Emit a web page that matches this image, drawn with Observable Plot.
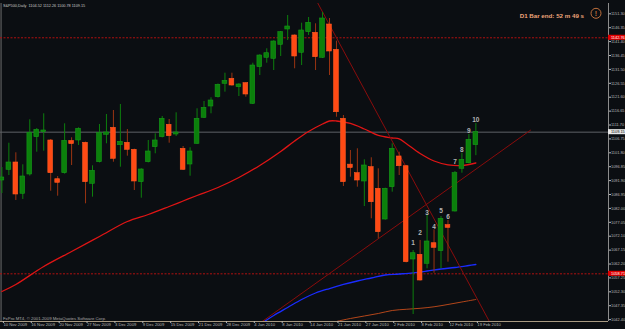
<!DOCTYPE html>
<html>
<head>
<meta charset="utf-8">
<script src="https://cdn.jsdelivr.net/npm/d3@7"></script>
<script src="https://cdn.jsdelivr.net/npm/@observablehq/plot@0.6"></script>
<style>
  html, body { margin: 0; padding: 0; background: #0b0e12; }
  #chart { width: 625px; height: 329px; overflow: hidden; }
</style>
</head>
<body>
<div id="chart"></div>
<script>
// ---- Data (S&P500, Daily, 10 Nov 2009 – 19 Feb 2010), bar index 0..68 ----
const open = [1091.94,1095.75,1098.35,1087.21,1094.08,1107.36,1109.14,1106.19,1092.40,1094.54,
1105.72,1106.19,1105.37,1090.77,1098.46,1108.22,1110.71,1104.51,1105.37,1102.87,
1091.34,1098.46,1103.80,1107.36,1111.78,1108.32,1103.23,1097.64,1105.01,1114.27,
1118.29,1121.61,1126.38,1128.16,1125.17,1126.59,1119.25,1132.29,1135.64,1135.28,
1140.26,1145.71,1143.58,1137.42,1144.75,1144.54,1135.64,1147.49,1138.48,1113.91,
1097.28,1094.54,1091.59,1096.68,1088.99,1078.05,1089.56,1100.49,1097.03,1063.81,
1065.48,1062.28,1069.61,1066.77,1075.74,1080.90,1096.11,1098.10,1104.52];
const high = [1096.57,1105.22,1101.81,1097.53,1113.56,1110.46,1115.69,1106.50,1093.37,1112.13,
1107.15,1110.71,1105.60,1097.18,1111.88,1115.44,1116.87,1119.01,1110.10,1103.10,
1096.10,1106.19,1108.57,1114.73,1113.66,1116.05,1104.05,1103.59,1117.47,1120.07,
1121.39,1126.30,1130.15,1130.15,1126.40,1126.80,1133.71,1136.70,1138.84,1141.70,
1145.00,1150.70,1143.80,1147.96,1149.99,1147.74,1151.77,1149.63,1141.55,1115.09,
1102.62,1103.23,1099.31,1100.03,1096.11,1089.20,1105.01,1102.02,1097.30,1067.01,
1070.58,1079.48,1074.39,1079.12,1077.70,1095.15,1101.66,1108.32,1112.26];
const low = [1087.31,1093.72,1084.82,1085.18,1093.50,1102.02,1102.38,1088.13,1086.35,1094.20,
1097.28,1104.41,1083.64,1086.00,1098.20,1105.01,1098.46,1096.68,1100.60,1088.38,
1085.64,1098.20,1101.45,1107.10,1105.22,1107.61,1095.50,1093.47,1104.80,1114.00,
1115.69,1121.30,1123.39,1125.52,1121.85,1121.61,1119.00,1129.33,1133.71,1131.11,
1136.10,1141.80,1131.72,1132.89,1143.58,1131.11,1135.40,1129.33,1114.48,1089.81,
1093.12,1089.56,1082.68,1078.30,1071.18,1077.80,1087.78,1093.72,1062.60,1044.22,
1056.10,1060.50,1058.93,1060.50,1062.85,1080.70,1094.54,1097.90,1100.78];
const close = [1093.01,1098.35,1086.96,1093.37,1108.93,1110.00,1109.75,1094.54,1091.12,1106.08,
1105.22,1110.35,1091.34,1095.40,1108.79,1109.03,1099.67,1105.72,1102.87,1091.59,
1095.86,1102.27,1106.19,1113.91,1107.72,1109.03,1095.75,1102.27,1113.91,1117.83,
1120.43,1126.02,1127.45,1125.77,1126.13,1122.57,1132.89,1136.45,1137.27,1141.44,
1144.75,1146.78,1136.10,1145.36,1148.10,1135.85,1149.63,1137.88,1116.26,1091.34,
1096.68,1091.94,1097.28,1084.21,1073.53,1088.99,1103.23,1097.03,1062.85,1066.05,
1056.33,1070.22,1067.97,1078.30,1075.38,1094.54,1099.31,1106.44,1109.15];

// date axis labels (every 4th bar)
const dateTickIdx = [0,4,8,12,16,20,24,28,32,36,40,44,48,52,56,60,64,68];
const dateTickLabels = ["10 Nov 2009","16 Nov 2009","20 Nov 2009","27 Nov 2009","3 Dec 2009",
  "9 Dec 2009","15 Dec 2009","21 Dec 2009","28 Dec 2009","4 Jan 2010","8 Jan 2010",
  "14 Jan 2010","21 Jan 2010","27 Jan 2010","2 Feb 2010","8 Feb 2010","12 Feb 2010","19 Feb 2010"];

// price axis labels
const priceTicks = [1151.30,1146.35,1141.40,1136.45,1131.50,1126.55,1121.60,1116.65,1111.70,
  1106.75,1101.80,1096.85,1091.90,1086.95,1082.00,1077.05,1072.10,1067.15,1062.20,
  1057.25,1052.30,1047.35,1042.40];

// moving averages (bar index, price)
const redMAIdx = [0,2,6,10,14,18,21,24,26,28,31,34,37,40,42,44,46,47,48,50,52,54,56,57,58,60,62,64,66,68];
const redMAVal = [1052.41,1054.91,1061.32,1066.66,1072.00,1077.34,1079.83,1082.68,1084.64,1086.60,
  1089.45,1093.01,1097.28,1102.27,1106.01,1109.39,1112.06,1113.13,1113.13,1112.24,1110.28,
  1107.97,1107.08,1106.79,1105.12,1101.56,1098.89,1097.53,1097.28,1098.17];
const blueMAIdx = [37,39,41,43,45,47,49,51,53,55,57,59,61,63,65,67,68];
const blueMAVal = [1040.66,1043.87,1046.72,1049.57,1051.88,1053.48,1054.91,1056.15,1057.22,
  1058.29,1058.65,1059.07,1059.71,1060.43,1060.96,1061.67,1062.03];
const brownMAIdx = [47,48,50,52,54,56,58,60,62,64,66,68];
const brownMAVal = [1041.02,1041.73,1042.80,1043.69,1044.58,1045.65,1046.08,1046.43,1046.97,
  1047.79,1048.68,1049.57];

// trend lines (bar index, price)
const trendDownIdx = [45.12, 70.56];
const trendDownVal = [1156.04, 1038.88];
const trendUpIdx = [37.35, 75.84];
const trendUpVal = [1041.73, 1109.85];

// horizontal levels
const levelPrices = [1142.76, 1058.71];
const lastPrice = 1109.15;

// wave count labels
const countIdx = [59,60,61,62,63,64,65,66,67,68];
const countText = ["1","2","3","4","5","6","7","8","9","10"];
const countPrice = [1069.61,1073.18,1080.30,1075.31,1081.26,1079.12,1098.46,1102.87,1109.50,1113.66];

// ---- build ----
const bars = open.map((o, i) => ({i, o, h: high[i], l: low[i], c: close[i], up: close[i] >= o}));
const series = (idx, val) => idx.map((x, k) => ({x, y: val[k]}));
const xMin = -0.2009, xMax = 87.03, yMin = 1041.73, yMax = 1154.97;
const font = "Liberation Sans, Arial, sans-serif";
const BG = "#0b0e12";
const AX = 3.9; // axis font size

const plot = Plot.plot({
  width: 625, height: 329,
  marginTop: 3, marginBottom: 8, marginLeft: 0, marginRight: 17,
  style: {background: BG, fontFamily: font, overflow: "visible"},
  x: {domain: [xMin, xMax], axis: null},
  y: {domain: [yMin, yMax], axis: null},
  marks: [
    // frame lines
    Plot.ruleX([xMin + 0.08], {stroke: "#6e6e6e", strokeWidth: 1}),
    Plot.ruleX([xMax], {stroke: "#8c8c8c", strokeWidth: 1}),
    Plot.ruleY([yMin], {stroke: "#a89a82", strokeWidth: 1}),
    // horizontal levels
    Plot.ruleY(levelPrices, {stroke: "#b01010", strokeWidth: 1, strokeDasharray: "2,1.5"}),
    Plot.ruleY([lastPrice], {stroke: "#5e6266", strokeWidth: 1}),
    // moving averages
    Plot.line(series(brownMAIdx, brownMAVal), {x: "x", y: "y", stroke: "#b3461a", strokeWidth: 1, curve: "catmull-rom", clip: true}),
    Plot.line(series(blueMAIdx, blueMAVal), {x: "x", y: "y", stroke: "#1a2cff", strokeWidth: 1.3, curve: "catmull-rom", clip: true}),
    Plot.line(series(redMAIdx, redMAVal), {x: "x", y: "y", stroke: "#e01515", strokeWidth: 1.3, curve: "catmull-rom", clip: true}),
    // trend lines
    Plot.line(series(trendDownIdx, trendDownVal), {x: "x", y: "y", stroke: "#8a0c0c", strokeWidth: 1, clip: true}),
    Plot.line(series(trendUpIdx, trendUpVal), {x: "x", y: "y", stroke: "#8a0c0c", strokeWidth: 1, clip: true}),
    // candles
    Plot.ruleX(bars, {x: "i", y1: "l", y2: "h", stroke: d => d.up ? "#0d7f0d" : "#9a3412", strokeWidth: 1, clip: true}),
    Plot.rect(bars, {
      x1: d => d.i - 0.34, x2: d => d.i + 0.34,
      y1: d => Math.abs(d.o - d.c) < 0.6 ? Math.min(d.o, d.c) - 0.3 : Math.min(d.o, d.c),
      y2: d => Math.abs(d.o - d.c) < 0.6 ? Math.max(d.o, d.c) + 0.3 : Math.max(d.o, d.c),
      fill: d => d.up ? "#0b800b" : "#ff4a14",
      stroke: d => d.up ? "#16991a" : "#ff5a22", strokeWidth: 0.6, clip: true
    }),
    // wave count
    Plot.text(countIdx.map((x, k) => ({x, y: countPrice[k], t: countText[k]})),
      {x: "x", y: "y", text: "t", fill: "#b4b4b4", fontSize: 6.5, fontWeight: "bold"}),
    // axes
    Plot.axisY(priceTicks, {anchor: "right", tickSize: 2, tickPadding: 0.5, fontSize: AX,
      tickFormat: d => d.toFixed(2), color: "#b8b8b8"}),
    Plot.axisX(dateTickIdx, {anchor: "bottom", tickSize: 2, tickPadding: 0, fontSize: 4.2,
      textAnchor: "start", dx: 1.5, color: "#b8b8b8",
      tickFormat: v => dateTickLabels[dateTickIdx.indexOf(v)]}),
    // price labels at right axis
    Plot.rect(levelPrices, {x1: xMax, x2: xMax + 2.6, y1: d => d - 0.9, y2: d => d + 0.9, fill: "#e00000"}),
    Plot.text(levelPrices, {x: xMax, y: d => d, text: d => d.toFixed(2), textAnchor: "start", dx: 2.5, fill: "#ffffff", fontSize: AX}),
    Plot.rect([lastPrice], {x1: xMax, x2: xMax + 2.6, y1: d => d - 0.9, y2: d => d + 0.9, fill: "#e8e8e8"}),
    Plot.text([lastPrice], {x: xMax, y: d => d, text: d => d.toFixed(2), textAnchor: "start", dx: 2.5, fill: "#000000", fontSize: AX})
  ]
});

const svg = d3.select(plot);
// header
svg.append("text").attr("x", 3).attr("y", 6.5).attr("fill", "#c8c8c8").attr("text-anchor", "start")
  .attr("font-size", 3.8).attr("font-family", font)
  .text("S&P500,Daily  1104.52 1112.26 1100.78 1109.15");
// bar timer
svg.append("text").attr("x", 584).attr("y", 18).attr("text-anchor", "end")
  .attr("fill", "#eea47a").attr("font-size", 6.2).attr("font-weight", "bold").attr("font-family", font)
  .text("D1 Bar end: 52 m 49 s");
// alert icon
svg.append("circle").attr("cx", 596).attr("cy", 13.3).attr("r", 5)
  .attr("fill", "none").attr("stroke", "#c0703c").attr("stroke-width", 1);
svg.append("text").attr("x", 596).attr("y", 16).attr("text-anchor", "middle")
  .attr("fill", "#c0703c").attr("font-size", 7).attr("font-weight", "bold").attr("font-family", font)
  .text("!");
// copyright
svg.append("text").attr("x", 3).attr("y", 319.5).attr("fill", "#a8a8a8").attr("text-anchor", "start")
  .attr("font-size", 4.3).attr("font-family", font)
  .text("FxPro MT4, © 2001-2009 MetaQuotes Software Corp.");

document.getElementById("chart").appendChild(plot);
</script>
</body>
</html>
